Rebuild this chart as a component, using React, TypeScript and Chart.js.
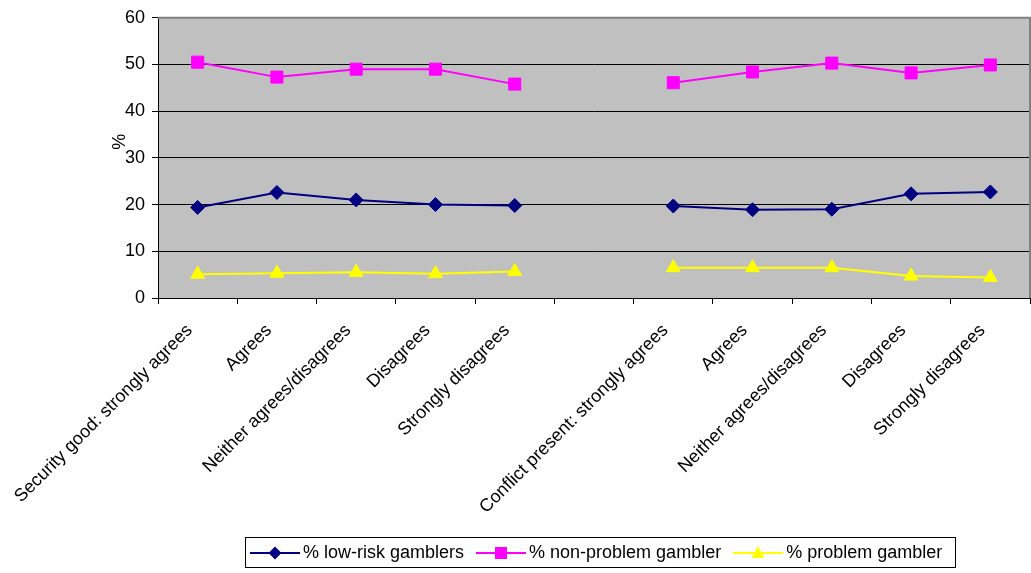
import React, { useEffect, useRef } from "react";
import { Chart, registerables } from "chart.js";

Chart.register(...registerables);

const categories = [
  "Security good: strongly agrees",
  "Agrees",
  "Neither agrees/disagrees",
  "Disagrees",
  "Strongly disagrees",
  "",
  "Conflict present: strongly agrees",
  "Agrees",
  "Neither agrees/disagrees",
  "Disagrees",
  "Strongly disagrees",
];

const lowRisk = [19.4, 22.6, 21.0, 20.0, 19.8, null, 19.7, 18.9, 19.0, 22.3, 22.7];
const nonProblem = [50.5, 47.3, 49.0, 49.0, 45.8, null, 46.1, 48.4, 50.3, 48.2, 49.9];
const problem = [5.1, 5.3, 5.5, 5.2, 5.7, null, 6.5, 6.5, 6.5, 4.7, 4.4];

const yTitle = "%";
const seriesNames = ["% low-risk gamblers", "% non-problem gambler", "% problem gambler"];
const seriesColors = ["#000080", "#FF00FF", "#FFFF00"];

const FONT = "'Liberation Sans', Arial, sans-serif";

const plotBg = {
  id: "plotBg",
  beforeDraw(chart: any) {
    const { ctx, chartArea } = chart;
    ctx.save();
    ctx.fillStyle = "#C0C0C0";
    ctx.fillRect(chartArea.left, chartArea.top, chartArea.right - chartArea.left, chartArea.bottom - chartArea.top);
    ctx.restore();
  },
  beforeDatasetsDraw(chart: any) {
    const { ctx, chartArea } = chart;
    ctx.save();
    ctx.strokeStyle = "#808080";
    ctx.lineWidth = 2;
    ctx.beginPath();
    ctx.moveTo(chartArea.left, chartArea.top);
    ctx.lineTo(chartArea.right, chartArea.top);
    ctx.lineTo(chartArea.right, chartArea.bottom);
    ctx.stroke();
    ctx.restore();
  },
  afterDraw(chart: any) {
    const { ctx, chartArea } = chart;
    ctx.save();
    ctx.translate(chartArea.left - 38, chartArea.top + 124);
    ctx.rotate(-Math.PI / 2);
    ctx.font = `18px ${FONT}`;
    ctx.fillStyle = "#000";
    ctx.textAlign = "center";
    ctx.textBaseline = "middle";
    ctx.fillText(yTitle, 0, 0);
    ctx.restore();
  },
};

function LegendMarker({ idx }: { idx: number }) {
  const c = seriesColors[idx];
  let marker: any;
  if (idx === 0) marker = <polygon points="25,3.5 31.5,10 25,16.5 18.5,10" fill={c} />;
  else if (idx === 1) marker = <rect x={19} y={4} width={12} height={12} fill={c} />;
  else marker = <polygon points="25,3 31.5,15 18.5,15" fill={c} />;
  return (
    <svg width={50} height={20} style={{ display: "block" }}>
      <line x1={0} y1={10} x2={50} y2={10} stroke={c} strokeWidth={2} />
      {marker}
    </svg>
  );
}

export default function App() {
  const ref = useRef<HTMLCanvasElement>(null);
  useEffect(() => {
    if (!ref.current) return;
    const data = [lowRisk, nonProblem, problem];
    const styles = ["rectRot", "rect", "triangle"];
    const radii = [7, 8.5, 8];
    const chart = new Chart(ref.current, {
      type: "line",
      data: {
        labels: categories,
        datasets: data.map((d, i) => ({
          label: seriesNames[i],
          data: d,
          borderColor: seriesColors[i],
          backgroundColor: seriesColors[i],
          pointBackgroundColor: seriesColors[i],
          pointBorderColor: seriesColors[i],
          pointBorderWidth: 1,
          pointStyle: styles[i] as any,
          pointRadius: radii[i],
          borderWidth: 2,
          spanGaps: false,
          tension: 0,
        })),
      },
      options: {
        animation: false,
        responsive: false,
        layout: { autoPadding: false, padding: { left: 100, top: 17, right: 1, bottom: 0 } },
        plugins: {
          legend: { display: false },
          tooltip: { enabled: false },
        },
        scales: {
          x: {
            offset: true,
            grid: {
              offset: true,
              drawOnChartArea: false,
              drawTicks: true,
              tickLength: 6,
              color: "#000",
            },
            border: { color: "#000", width: 1 },
            ticks: {
              autoSkip: false,
              maxRotation: 45,
              minRotation: 45,
              padding: 16,
              labelOffset: -8,
              color: "#000",
              font: { family: FONT, size: 18 },
            },
            afterFit(scale: any) {
              scale.height = 573 - 298;
              scale.paddingRight = 0;
              scale.paddingLeft = 0;
            },
          },
          y: {
            min: 0,
            max: 60,
            ticks: {
              stepSize: 10,
              padding: 7,
              color: "#000",
              font: { family: FONT, size: 18 },
            },
            grid: { color: "#000", tickLength: 6, drawTicks: true },
            border: { color: "#000", width: 1 },
            afterFit(scale: any) {
              scale.width = 58;
            },
          },
        },
      },
      plugins: [plotBg],
    });
    return () => chart.destroy();
  }, []);

  return (
    <div style={{ position: "absolute", left: 0, top: 0, width: 1031, height: 573, background: "#fff" }}>
      <canvas ref={ref} width={1031} height={573} style={{ display: "block" }} />
      <div
        style={{
          position: "absolute",
          left: 245,
          top: 537,
          width: 705,
          height: 29,
          border: "1px solid #000",
          display: "flex",
          alignItems: "center",
          paddingLeft: 4,
          boxSizing: "content-box",
          fontFamily: FONT,
          fontSize: 18,
          color: "#000",
          whiteSpace: "nowrap",
        }}
      >
        {seriesNames.map((n, i) => (
          <div key={n} style={{ display: "flex", alignItems: "center", marginRight: 12 }}>
            <LegendMarker idx={i} />
            <span style={{ marginLeft: 3 }}>{n}</span>
          </div>
        ))}
      </div>
    </div>
  );
}
